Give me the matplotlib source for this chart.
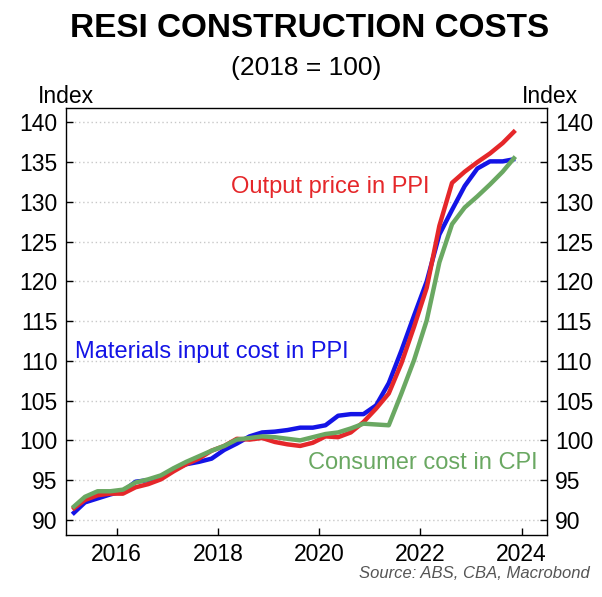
import matplotlib.pyplot as plt
import numpy as np

plt.rcParams['font.family'] = ['Liberation Sans', 'DejaVu Sans']

# quarterly, 2015 Q1 .. 2023 Q4
quarters = np.arange(2015.125, 2024.0, 0.25)

materials = [90.7, 92.2, 92.7, 93.2, 93.6, 94.8, 95.0, 95.4, 96.4, 97.0,
             97.3, 97.7, 98.8, 99.6, 100.5, 101.0, 101.1, 101.3, 101.6, 101.6,
             101.9, 103.1, 103.3, 103.3, 104.4, 107.2, 111.3, 115.7, 120.0, 125.9,
             129.0, 132.0, 134.2, 135.1, 135.1, 135.4]
output = [91.3, 92.5, 93.1, 93.3, 93.3, 94.1, 94.5, 95.1, 96.1, 97.0,
          97.7, 98.7, 99.3, 100.2, 100.1, 100.3, 99.8, 99.5, 99.3, 99.7,
          100.5, 100.4, 101.0, 102.3, 104.0, 105.9, 109.7, 114.3, 119.2, 127.0,
          132.4, 133.8, 135.0, 136.1, 137.4, 139.0]
consumer = [91.5, 92.9, 93.6, 93.6, 93.8, 94.7, 95.1, 95.6, 96.5, 97.3,
            98.0, 98.7, 99.3, 100.1, 100.3, 100.5, 100.4, 100.2, 100.0, 100.4,
            100.8, 101.0, 101.5, 102.1, 102.0, 101.9, 105.9, 110.1, 115.1, 122.4,
            127.2, 129.3, 130.7, 132.2, 133.8, 135.7]

fig = plt.figure(figsize=(6.02, 5.97), dpi=100)
ax = fig.add_axes([0.1096, 0.1039, 0.799, 0.715])

ax.plot(quarters, materials, color='#1414e6', lw=3.2, solid_capstyle='butt')
ax.plot(quarters, output, color='#e5272a', lw=3.2, solid_capstyle='butt')
ax.plot(quarters, consumer, color='#6aa862', lw=3.2, solid_capstyle='butt')

ax.set_xlim(2015.0, 2024.5)
ax.set_ylim(88.1, 141.8)
ax.set_xticks([2016, 2018, 2020, 2022, 2024])
ax.set_yticks(range(90, 141, 5))
ax.yaxis.grid(True, linestyle=(0, (1, 2)), color='#c8c8c8', lw=1)
ax.tick_params(axis='both', direction='in', labelsize=16.5, length=5, width=1)
ax.tick_params(axis='y', right=True, labelright=True, pad=6)
ax.tick_params(axis='x', pad=6)
for s in ax.spines.values():
    s.set_linewidth(1)

ax.text(0.549, 0.815, 'Output price in PPI', transform=ax.transAxes, color='#e5272a',
        fontsize=17, ha='center', va='center')
ax.text(0.0187, 0.4286, 'Materials input cost in PPI', transform=ax.transAxes, color='#1414e6',
        fontsize=17, ha='left', va='center')
ax.text(0.981, 0.1686, 'Consumer cost in CPI', transform=ax.transAxes, color='#6aa862',
        fontsize=17, ha='right', va='center')

fig.text(0.515, 0.952, 'RESI CONSTRUCTION COSTS', fontsize=24, fontweight='bold', ha='center', va='center')
fig.text(0.509, 0.886, '(2018 = 100)', fontsize=19, ha='center', va='center')
fig.text(0.109, 0.839, 'Index', fontsize=16.5, ha='center', va='center')
fig.text(0.914, 0.839, 'Index', fontsize=16.5, ha='center', va='center')
fig.text(0.98, 0.04, 'Source: ABS, CBA, Macrobond', fontsize=12, style='italic',
         color='#555555', ha='right', va='center')

fig.savefig('out.png', dpi=100)
